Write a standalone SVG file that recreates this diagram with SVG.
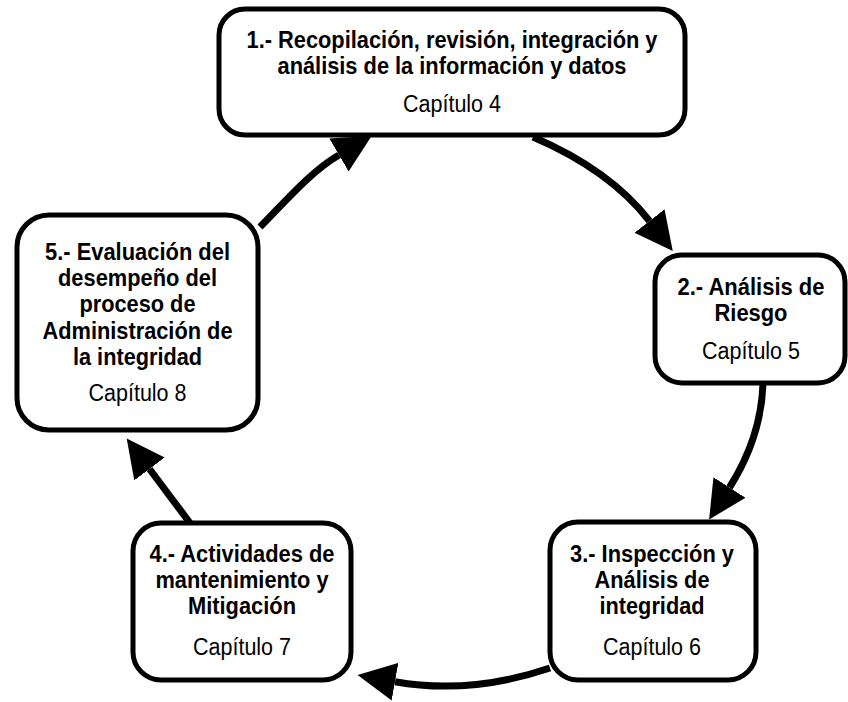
<svg xmlns="http://www.w3.org/2000/svg" width="848" height="702" viewBox="0 0 848 702">
<style>
  .box { fill: #ffffff; stroke: #000000; stroke-width: 5; }
  .t { font-family: "Liberation Sans Narrow", "Arial Narrow", "Liberation Sans", Arial, sans-serif; text-anchor: middle; fill: #000000; }
  .b { font-weight: bold; font-size: 23px; }
  .r { font-weight: normal; font-size: 23px; }
  .conn { fill: none; stroke: #000000; stroke-width: 7; marker-end: url(#ah); }
</style>
<defs>
  <marker id="ah" markerUnits="userSpaceOnUse" markerWidth="40" markerHeight="40" viewBox="0 -20 40 40" refX="0" refY="0" orient="auto">
    <path d="M0,-19 L38,0 L0,19 Z" fill="#000000"/>
  </marker>
</defs>
<rect width="848" height="702" fill="#ffffff"/>
<g id="connectors">
  <path class="conn" d="M533,137 Q610,170 649.5,221"/>
  <path class="conn" d="M763,384 Q761,438 729.5,487.5"/>
  <path class="conn" d="M550,668 Q470,695 395,681.7"/>
  <path class="conn" d="M190,523 L149.5,469"/>
  <path class="conn" d="M260,227 C285,202 310,172 339,155"/>
</g>
<g id="node1">
  <rect class="box" x="219" y="9" width="466" height="126" rx="26"/>
  <text class="t b" x="452" y="48" textLength="411" lengthAdjust="spacingAndGlyphs">1.- Recopilación, revisión, integración y</text>
  <text class="t b" x="452" y="74" textLength="349" lengthAdjust="spacingAndGlyphs">análisis de la información y datos</text>
  <text class="t r" x="452" y="112" textLength="98" lengthAdjust="spacingAndGlyphs">Capítulo 4</text>
</g>
<g id="node2">
  <rect class="box" x="655" y="255" width="190" height="128" rx="27"/>
  <text class="t b" x="751" y="295" textLength="147" lengthAdjust="spacingAndGlyphs">2.- Análisis de</text>
  <text class="t b" x="751" y="321" textLength="73" lengthAdjust="spacingAndGlyphs">Riesgo</text>
  <text class="t r" x="751" y="359" textLength="98" lengthAdjust="spacingAndGlyphs">Capítulo 5</text>
</g>
<g id="node3">
  <rect class="box" x="550" y="522" width="206" height="158" rx="28"/>
  <text class="t b" x="652" y="562" textLength="164" lengthAdjust="spacingAndGlyphs">3.- Inspección y</text>
  <text class="t b" x="652" y="588" textLength="115" lengthAdjust="spacingAndGlyphs">Análisis de</text>
  <text class="t b" x="652" y="614" textLength="105" lengthAdjust="spacingAndGlyphs">integridad</text>
  <text class="t r" x="652" y="655" textLength="98" lengthAdjust="spacingAndGlyphs">Capítulo 6</text>
</g>
<g id="node4">
  <rect class="box" x="133" y="523" width="218" height="157" rx="28"/>
  <text class="t b" x="242" y="562" textLength="185" lengthAdjust="spacingAndGlyphs">4.- Actividades de</text>
  <text class="t b" x="242" y="588" textLength="173" lengthAdjust="spacingAndGlyphs">mantenimiento y</text>
  <text class="t b" x="242" y="614" textLength="108" lengthAdjust="spacingAndGlyphs">Mitigación</text>
  <text class="t r" x="242" y="655" textLength="98" lengthAdjust="spacingAndGlyphs">Capítulo 7</text>
</g>
<g id="node5">
  <rect class="box" x="17" y="215" width="241" height="215" rx="32"/>
  <text class="t b" x="137.5" y="260" textLength="185" lengthAdjust="spacingAndGlyphs">5.- Evaluación del</text>
  <text class="t b" x="137.5" y="286" textLength="159" lengthAdjust="spacingAndGlyphs">desempeño del</text>
  <text class="t b" x="137.5" y="312" textLength="116" lengthAdjust="spacingAndGlyphs">proceso de</text>
  <text class="t b" x="137.5" y="339" textLength="190" lengthAdjust="spacingAndGlyphs">Administración de</text>
  <text class="t b" x="137.5" y="365" textLength="129" lengthAdjust="spacingAndGlyphs">la integridad</text>
  <text class="t r" x="137.5" y="401" textLength="98" lengthAdjust="spacingAndGlyphs">Capítulo 8</text>
</g>
</svg>
